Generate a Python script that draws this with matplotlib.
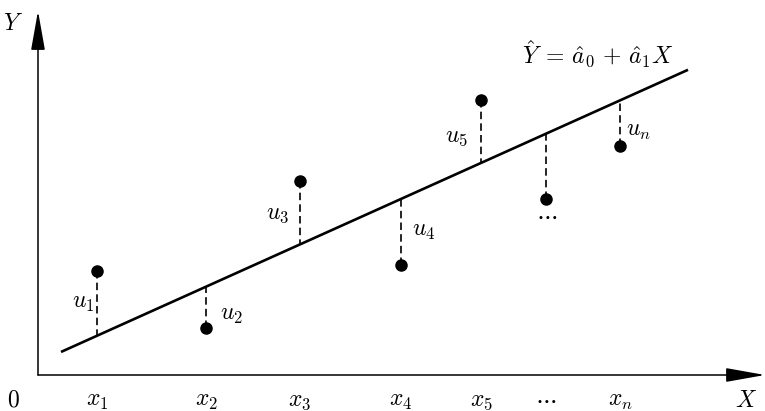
import numpy as np
import matplotlib
matplotlib.use("Agg")
import matplotlib.pyplot as plt

plt.rcParams["mathtext.fontset"] = "cm"
plt.rcParams["font.family"] = "serif"
plt.rcParams["font.serif"] = ["DejaVu Serif"]

# Наблюдения (x_i, y_i) и оценённая линия регрессии Y = a0 + a1 X
x_obs = [59, 168, 262, 363, 443, 508, 582]
y_obs = [104, 47, 194, 110, 275, 176, 229]
x_ticks = ["$x_1$", "$x_2$", "$x_3$", "$x_4$", "$x_5$", r"$\cdots$", "$x_n$"]
u_labels = ["$u_1$", "$u_2$", "$u_3$", "$u_4$", "$u_5$", r"$\cdots$", "$u_n$"]
a0, a1 = 12.7, 0.45
line_x = [23, 650]

fig = plt.figure(figsize=(7.65, 4.11), dpi=100)
ax = fig.add_axes([0, 0, 1, 1])
ax.set_xlim(-38, 727)
ax.set_ylim(-36, 375)
ax.axis("off")

# Оси со стрелками
arr = dict(arrowstyle="-|>,head_length=1.35,head_width=0.24", color="black",
           lw=1.1, mutation_scale=18, shrinkA=0, shrinkB=0)
ax.annotate("", xy=(727, 0), xytext=(0, 0), arrowprops=arr)
ax.annotate("", xy=(0, 364), xytext=(0, 0), arrowprops=arr)

fs = 17
ax.text(-25, -25, "$0$", fontsize=fs, ha="center", va="center")
ax.text(-25, 352, "$Y$", fontsize=fs, ha="center", va="center")
ax.text(708, -25, "$X$", fontsize=fs, ha="center", va="center")

# Линия регрессии
lx = np.array(line_x)
ax.plot(lx, a0 + a1 * lx, color="black", lw=1.9, solid_capstyle="butt")
ax.text(560, 321, r"$\hat{Y}\;=\,\hat{a}_0\,+\,\hat{a}_1 X$", fontsize=fs,
        ha="center", va="center")

# Остатки u_i
offs = [(-14, -31), (26, 14), (-22, -32), (23, 35), (-24, -36), (1, -17), (19, 15)]
for x, y, t, lab, (dx, dy) in zip(x_obs, y_obs, x_ticks, u_labels, offs):
    ax.plot([x, x], [y, a0 + a1 * x], color="black", lw=1.2, ls=(0, (4.5, 2.5)))
    ax.plot(x, y, "o", color="black", ms=8)
    ax.text(x, -25, t, fontsize=fs, ha="center", va="center")
    ax.text(x + dx, y + dy, lab, fontsize=fs, ha="center", va="center")

fig.savefig("out.png", dpi=100)
